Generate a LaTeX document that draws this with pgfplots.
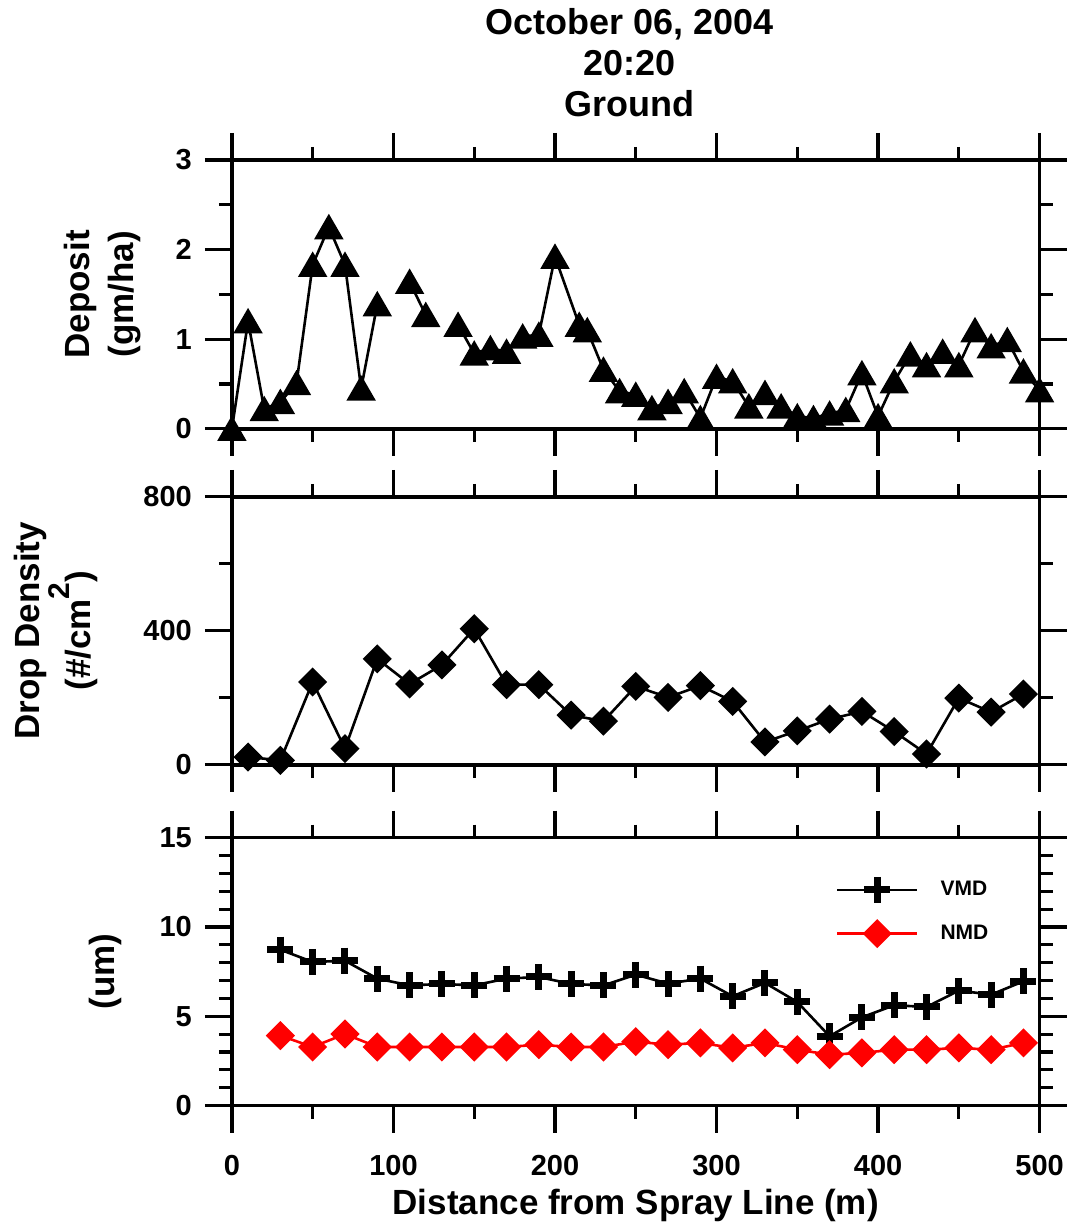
\documentclass[border=0pt]{standalone}
\usepackage{fontspec}
\setmainfont{Liberation Sans}
\usepackage{pgfplots}
\pgfplotsset{compat=1.18}

\pgfplotstableread{
x y
0 0.00
10 1.20
20 0.22
30 0.30
40 0.51
50 1.83
60 2.25
70 1.83
80 0.45
90 1.39
100 nan
110 1.64
120 1.27
130 nan
140 1.16
150 0.84
160 0.90
170 0.86
180 1.03
190 1.05
200 1.92
215 1.16
220 1.10
230 0.66
240 0.42
250 0.38
260 0.23
270 0.30
280 0.42
290 0.12
300 0.58
310 0.53
320 0.25
330 0.40
340 0.25
350 0.14
360 0.12
370 0.17
380 0.21
390 0.62
400 0.14
410 0.53
420 0.83
430 0.71
440 0.86
450 0.71
460 1.10
470 0.92
480 0.99
490 0.64
500 0.43
}\deposit

\pgfplotstableread{
x y
10 23
30 13
50 247
70 48
90 316
110 241
130 298
150 406
170 239
190 239
210 148
230 130
250 234
270 201
290 236
310 189
330 68
350 101
370 136
390 159
410 99
430 32
450 199
470 157
490 211
}\density

\pgfplotstableread{
x vmd nmd
30 8.73 3.92
50 8.04 3.28
70 8.11 4.01
90 7.11 3.28
110 6.73 3.28
130 6.81 3.28
150 6.73 3.28
170 7.11 3.28
190 7.20 3.41
210 6.81 3.28
230 6.73 3.28
250 7.33 3.58
270 6.83 3.41
290 7.11 3.51
310 6.12 3.23
330 6.87 3.51
350 5.80 3.13
370 3.88 2.85
390 4.94 2.95
410 5.62 3.13
430 5.52 3.13
450 6.44 3.23
470 6.21 3.13
490 6.96 3.51
}\diam

\pgfplotsset{
  panel/.style={
    scale only axis, width=404pt, xmin=0, xmax=500,
    xtick={0,100,...,500}, minor xtick={50,150,250,350,450},
    tick align=outside, major tick length=13.5pt, minor tick length=6.5pt,
    tick style={black, line width=1.6pt},
    axis line style={line width=1.8pt},
    /pgf/number format/assume math mode=true,
    ticklabel style={font=\bfseries\fontsize{14.5}{14.5}\selectfont},
    yticklabel style={xshift=-3pt},
    xticklabel style={yshift=-8pt},
    label style={font=\bfseries\fontsize{17.5}{22}\selectfont},
    clip=false,
    unbounded coords=jump,
    ylabel style={align=center},
    scaled y ticks=false,
  },
}

\begin{document}
\begin{tikzpicture}
\path (-116pt,-61pt) rectangle (418pt,553pt);

% top panel
\begin{axis}[panel, at={(0pt,338.5pt)}, height=134.5pt,
  ymin=0, ymax=3, ytick={0,1,2,3}, minor ytick={0.5,1.5,2.5},
  xticklabels={},
  ylabel={Deposit\\(gm/ha)},
  ylabel style={at={(axis description cs:-0.160,0.5)}, anchor=center},
  title={October 06, 2004\\20:20\\Ground},
  title style={at={(0.4926,1)}, anchor=south, yshift=15.5pt, align=center, inner sep=0pt,
    font=\bfseries\fontsize{18}{20.5}\selectfont},
]
\addplot[black, line width=1.3pt, mark=triangle*, mark size=7.2pt, mark options={solid, yshift=-1.8pt}] table[x=x,y=y] {\deposit};
\end{axis}

% middle panel
\begin{axis}[panel, at={(0pt,170.5pt)}, height=134pt,
  ymin=0, ymax=800, ytick={0,400,800}, minor ytick={200,600},
  xticklabels={},
  ylabel={Drop Density\\(\#/cm\raisebox{0.6em}{\fontsize{15}{15}\selectfont 2})},
  ylabel style={at={(axis description cs:-0.218,0.5)}, anchor=center},
]
\addplot[black, line width=1.3pt, mark=square*, mark size=4.5pt, mark options={rotate=45}] table[x=x,y=y] {\density};
\end{axis}

% bottom panel
\begin{axis}[panel, at={(0pt,0pt)}, height=134pt,
  ymin=0, ymax=15, ytick={0,5,10,15}, minor ytick={1,2,3,4,6,7,8,9,11,12,13,14},
  xlabel={Distance from Spray Line (m)},
  xlabel style={at={(axis description cs:0.5,-0.405)}, anchor=base},
  ylabel={(um)},
  ylabel style={at={(axis description cs:-0.156,0.5)}, anchor=center},
  legend style={draw=none, fill=none, at={(0.740,0.87)}, anchor=north west,
    font=\bfseries\fontsize{10.5}{10.5}\selectfont, row sep=9pt,
    /tikz/every odd column/.append style={column sep=9pt}},
  legend cell align=left,
  legend image code/.code={\draw[mark repeat=2,mark phase=2] plot coordinates {(0pt,0pt) (20pt,0pt) (40pt,0pt)};},
]
\addplot[black, line width=1.3pt, mark=+, mark size=6.5pt, mark options={line width=3.5pt}] table[x=x,y=vmd] {\diam};
\addlegendentry{VMD}
\addplot[red, line width=1.3pt, mark=square*, mark size=4.5pt, mark options={rotate=45}] table[x=x,y=nmd] {\diam};
\addlegendentry{NMD}
\end{axis}
\end{tikzpicture}
\end{document}
